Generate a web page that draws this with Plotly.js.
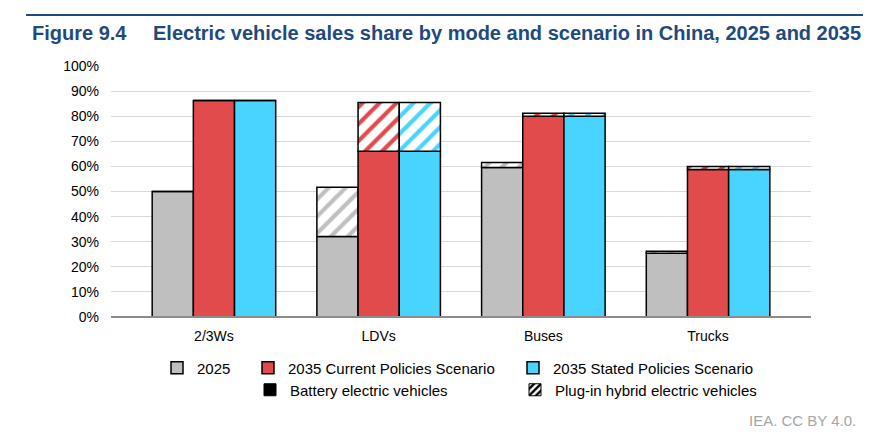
<!DOCTYPE html>
<html>
<head>
<meta charset="utf-8">
<script src="https://cdn.plot.ly/plotly-3.0.1.min.js"></script>
<style>
  body { margin: 0; background: #fff; }
  #grafik { width: 890px; height: 432px; }
</style>
</head>
<body>
<div id="grafik"></div>
<script>
// Data (share of sales, %)
const modes = ["2/3Ws", "LDVs", "Buses", "Trucks"];
const bev2025 = [50.0, 32.1, 59.6, 25.4];
const phev2025 = [0, 19.6, 2.0, 0.8];
const bevCps = [86.3, 66.0, 80.0, 58.8];
const phevCps = [0, 19.5, 1.2, 1.2];
const bevSps = [86.3, 66.0, 80.0, 58.8];
const phevSps = [0, 19.5, 1.2, 1.2];
const yTicks = [0, 10, 20, 30, 40, 50, 60, 70, 80, 90, 100];

const grey = "#bfbfbf";
const red = "#e24b4b";
const blue = "#49d4ff";
const navy = "#1f4a7c";
const fontFam = "Liberation Sans, Arial, sans-serif";

// one scenario = solid BEV bar + hatched PHEV bar on top
function scenario(name, bev, phev, color, offset, legendName) {
    const bevTrace = {
        type: "bar", x: modes, y: bev, name: name,
        width: 0.25, offset: offset,
        marker: { color: color, line: { color: "#000", width: 1.5 } },
        legend: legendName, hoverinfo: "y"
    };
    const phevTrace = {
        type: "bar", x: modes, y: phev, base: bev, name: name + " PHEV",
        width: 0.25, offset: offset, showlegend: false,
        marker: {
            color: "#fff",
            line: { color: "#000", width: 1.5 },
            pattern: { shape: "/", fgcolor: color, bgcolor: "#fff", size: 12, solidity: 0.35 }
        },
        hoverinfo: "y"
    };
    return [bevTrace, phevTrace];
}

const data = [
    ...scenario("2025", bev2025, phev2025, grey, -0.375, "legend"),
    ...scenario("2035 Current Policies Scenario", bevCps, phevCps, red, -0.125, "legend2"),
    ...scenario("2035 Stated Policies Scenario", bevSps, phevSps, blue, 0.125, "legend3"),
    // legend-only entries for the two powertrains
    {
        type: "bar", x: [modes[0]], y: [null], name: "Battery electric vehicles",
        marker: { color: "#000", line: { color: "#000", width: 1 } }, legend: "legend4"
    },
    {
        type: "bar", x: [modes[0]], y: [null], name: "Plug-in hybrid electric vehicles",
        marker: {
            color: "#fff", line: { color: "#000", width: 1 },
            pattern: { shape: "/", fgcolor: "#000", bgcolor: "#fff", size: 6, solidity: 0.5 }
        },
        legend: "legend5"
    }
];

// pixel -> paper helpers (plot area 111..811 x, 66..317 y)
const px = v => (v - 111) / 700;
const py = v => (317 - v) / 251;

const legendBase = {
    orientation: "v", xanchor: "left", yanchor: "middle",
    bgcolor: "rgba(0,0,0,0)", borderwidth: 0,
    font: { family: fontFam, size: 15, color: "#000" }
};

const layout = {
    width: 890, height: 432,
    margin: { l: 111, r: 79, t: 66, b: 115 },
    paper_bgcolor: "#fff", plot_bgcolor: "#fff",
    barmode: "overlay",
    font: { family: fontFam, size: 14, color: "#000" },
    xaxis: {
        type: "category", range: [-0.625, 3.625],
        showgrid: false, ticks: "", showline: false, zeroline: false,
        tickfont: { size: 14, color: "#000" }, ticklabelstandoff: 9, fixedrange: true
    },
    yaxis: {
        range: [0, 100], tickvals: yTicks, ticktext: yTicks.map(v => v + "%"),
        showgrid: true, gridcolor: "#d9d9d9", gridwidth: 1,
        zeroline: false, showline: false, ticks: "",
        tickfont: { size: 14, color: "#000" }, ticklabelstandoff: 11, fixedrange: true
    },
    legend: Object.assign({}, legendBase, { x: px(157), y: py(368) }),
    legend2: Object.assign({}, legendBase, { x: px(248), y: py(368) }),
    legend3: Object.assign({}, legendBase, { x: px(513), y: py(368) }),
    legend4: Object.assign({}, legendBase, { x: px(250), y: py(390) }),
    legend5: Object.assign({}, legendBase, { x: px(515), y: py(390) }),
    shapes: [
        { type: "line", xref: "paper", yref: "paper", x0: px(26), x1: px(863), y0: py(15), y1: py(15),
          line: { color: navy, width: 2 } },
        { type: "line", xref: "paper", yref: "paper", x0: 0, x1: 1, y0: 0, y1: 0,
          line: { color: "#8c8c8c", width: 2 } }
    ],
    annotations: [
        { text: "<b>Figure 9.4</b>", xref: "paper", yref: "paper", x: px(30), y: py(33),
          xanchor: "left", yanchor: "middle", showarrow: false,
          font: { family: fontFam, size: 20, color: navy } },
        { text: "<b>Electric vehicle sales share by mode and scenario in China, 2025 and 2035</b>",
          xref: "paper", yref: "paper", x: px(151), y: py(33),
          xanchor: "left", yanchor: "middle", showarrow: false,
          font: { family: fontFam, size: 20, color: navy } },
        { text: "IEA. CC BY 4.0.", xref: "paper", yref: "paper", x: px(858), y: py(420),
          xanchor: "right", yanchor: "middle", showarrow: false,
          font: { family: fontFam, size: 15, color: "#a6a6a6" } }
    ]
};

Plotly.newPlot("grafik", data, layout, { displayModeBar: false, staticPlot: true });
</script>
</body>
</html>
